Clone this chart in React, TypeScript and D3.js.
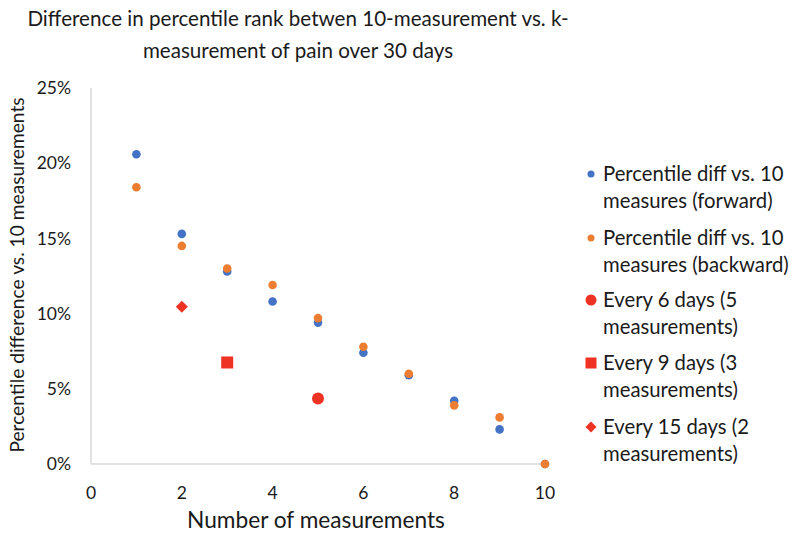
import React from "react";
import * as d3 from "d3";

const measurements = [1, 2, 3, 4, 5, 6, 7, 8, 9, 10];
const forwardDiff = [20.6, 15.3, 12.8, 10.8, 9.4, 7.4, 5.9, 4.2, 2.3, 0];
const backwardDiff = [18.4, 14.5, 13.0, 11.9, 9.7, 7.8, 6.0, 3.9, 3.1, 0];
const every6 = { x: 5, y: 4.35 };
const every9 = { x: 3, y: 6.75 };
const every15 = { x: 2, y: 10.45 };
const xTicks = [0, 2, 4, 6, 8, 10];
const yTicks = [0, 5, 10, 15, 20, 25];
const legendLabels = [
  ["Percentile diff vs. 10", "measures (forward)"],
  ["Percentile diff vs. 10", "measures (backward)"],
  ["Every 6 days (5", "measurements)"],
  ["Every 9 days (3", "measurements)"],
  ["Every 15 days (2", "measurements)"],
];

const BLUE = "#4472C4";
const ORANGE = "#ED7D31";
const RED = "#EE3324";
const FONT = "Lato, 'Open Sans', sans-serif";
const TEXT = "#1a1a1a";

export default function App() {
  const x = d3.scaleLinear().domain([0, 10]).range([91, 545]);
  const y = d3.scaleLinear().domain([0, 25]).range([464, 88]);

  const marker = (kind: string, cx: number, cy: number, big: boolean, key: string) => {
    if (kind === "forward")
      return <circle key={key} cx={cx} cy={cy} r={big ? 4.3 : 3.5} fill={BLUE} />;
    if (kind === "backward")
      return <circle key={key} cx={cx} cy={cy} r={big ? 4.3 : 3.5} fill={ORANGE} />;
    if (kind === "c6") return <circle key={key} cx={cx} cy={cy} r={big ? 6 : 5.5} fill={RED} />;
    if (kind === "s9") {
      const s = big ? 12 : 11;
      return <rect key={key} x={cx - s / 2} y={cy - s / 2} width={s} height={s} fill={RED} />;
    }
    const d = big ? 6 : 5.5;
    return (
      <path
        key={key}
        d={`M${cx},${cy - d}L${cx + d},${cy}L${cx},${cy + d}L${cx - d},${cy}Z`}
        fill={RED}
      />
    );
  };

  const legendKinds = ["forward", "backward", "c6", "s9", "d15"];
  const legendY = [174, 238, 300, 363, 427];

  return (
    <svg width={800} height={546} style={{ display: "block", position: "absolute", left: 0, top: 0 }} fontFamily={FONT}>
      <rect width={800} height={546} fill="#fff" />
      <text x={298} y={26} textAnchor="middle" fontSize={20.6} fill={TEXT}>
        Difference in percentile rank betwen 10-measurement vs. k-
      </text>
      <text x={298} y={58} textAnchor="middle" fontSize={20.6} fill={TEXT}>
        measurement of pain over 30 days
      </text>

      <line x1={x(0)} x2={x(0)} y1={y(25)} y2={y(0)} stroke="#D9D9D9" strokeWidth={1.5} />
      <line x1={x(0)} x2={x(10)} y1={y(0)} y2={y(0)} stroke="#D9D9D9" strokeWidth={1.5} />

      {yTicks.map((t) => (
        <text key={"y" + t} x={71} y={y(t)} dy="0.35em" textAnchor="end" fontSize={17.5} fill={TEXT}>
          {t + "%"}
        </text>
      ))}
      {xTicks.map((t) => (
        <text key={"x" + t} x={x(t)} y={493} dy="0.35em" textAnchor="middle" fontSize={17.5} fill={TEXT}>
          {t}
        </text>
      ))}

      <text x={316} y={528} textAnchor="middle" fontSize={22.7} fill={TEXT}>
        Number of measurements
      </text>
      <text
        transform={`translate(24,${275}) rotate(-90)`}
        textAnchor="middle"
        fontSize={19.2}
        fill={TEXT}
      >
        Percentile difference vs. 10 measurements
      </text>

      {measurements.map((m, i) => marker("forward", x(m), y(forwardDiff[i]), true, "f" + i))}
      {measurements.map((m, i) => marker("backward", x(m), y(backwardDiff[i]), true, "b" + i))}
      {marker("c6", x(every6.x), y(every6.y), true, "c6")}
      {marker("s9", x(every9.x), y(every9.y), true, "s9")}
      {marker("d15", x(every15.x), y(every15.y), true, "d15")}

      {legendLabels.map((lines, i) => (
        <g key={"lg" + i}>
          {marker(legendKinds[i], 591, legendY[i], false, "lm" + i)}
          <text x={603} y={legendY[i]} dy="0.35em" fontSize={20.3} fill={TEXT}>
            {lines[0]}
          </text>
          <text x={603} y={legendY[i] + 27} dy="0.35em" fontSize={20.3} fill={TEXT}>
            {lines[1]}
          </text>
        </g>
      ))}
    </svg>
  );
}
